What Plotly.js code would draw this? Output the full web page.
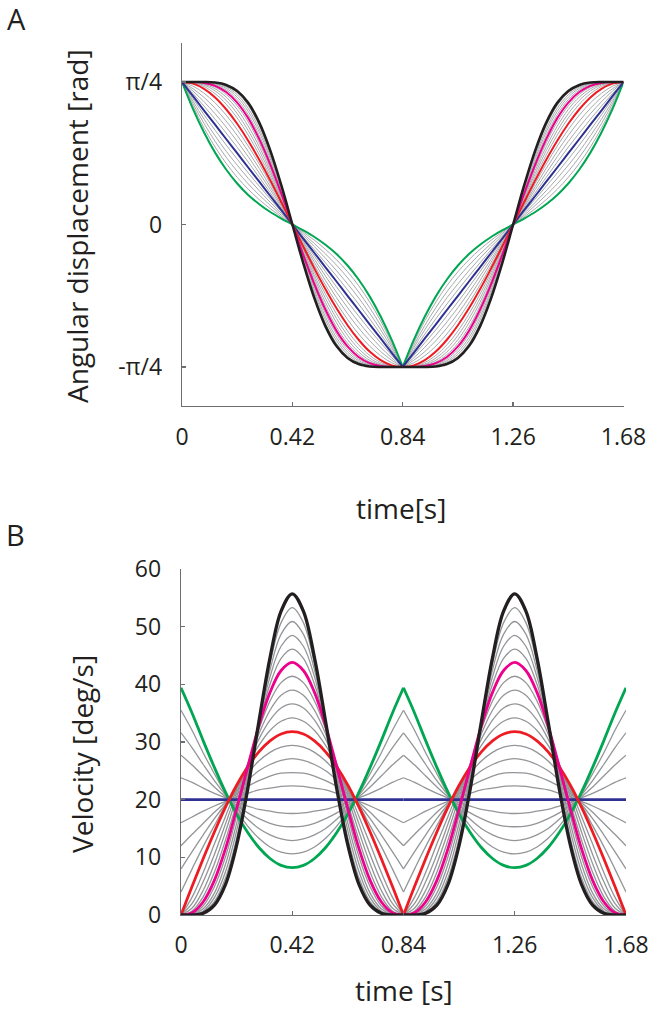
<!DOCTYPE html>
<html><head><meta charset="utf-8">
<script src="https://cdn.plot.ly/plotly-3.0.1.min.js"></script>
<style>html,body{margin:0;padding:0;background:#fff}#chart{width:656px;height:1013px}</style>
</head>
<body>
<div id="chart"></div>
<script>
// time samples [s]
const time = [0,0.042,0.084,0.126,0.168,0.21,0.252,0.294,0.336,0.378,0.42,0.462,0.504,0.546,0.588,0.63,0.672,0.714,0.756,0.798,0.84,0.882,0.924,0.966,1.008,1.05,1.092,1.134,1.176,1.218,1.26,1.302,1.344,1.386,1.428,1.47,1.512,1.554,1.596,1.638,1.68];

// Panel A: angular displacement [rad], curve 00 (green) ... 05 (blue) ... 10 (red) ... 15 (magenta) ... 20 (black)
const pos00 = [0.785,0.636,0.507,0.396,0.303,0.226,0.163,0.112,0.069,0.033,0, -0.033,-0.069,-0.112,-0.163,-0.226,-0.303,-0.396,-0.507,-0.636,-0.785, -0.636,-0.507,-0.396,-0.303,-0.226,-0.163,-0.112,-0.069,-0.033,0, 0.033,0.069,0.112,0.163,0.226,0.303,0.396,0.507,0.636,0.785];
const pos01 = [0.785,0.651,0.531,0.427,0.337,0.260,0.194,0.137,0.087,0.042,0, -0.042,-0.087,-0.137,-0.194,-0.260,-0.337,-0.427,-0.531,-0.651,-0.785, -0.651,-0.531,-0.427,-0.337,-0.260,-0.194,-0.137,-0.087,-0.042,0, 0.042,0.087,0.137,0.194,0.260,0.337,0.427,0.531,0.651,0.785];
const pos02 = [0.785,0.665,0.556,0.458,0.371,0.293,0.224,0.162,0.105,0.051,0, -0.051,-0.105,-0.162,-0.224,-0.293,-0.371,-0.458,-0.556,-0.665,-0.785, -0.665,-0.556,-0.458,-0.371,-0.293,-0.224,-0.162,-0.105,-0.051,0, 0.051,0.105,0.162,0.224,0.293,0.371,0.458,0.556,0.665,0.785];
const pos03 = [0.785,0.679,0.580,0.489,0.404,0.327,0.254,0.186,0.122,0.061,0, -0.061,-0.122,-0.186,-0.254,-0.327,-0.404,-0.489,-0.580,-0.679,-0.785, -0.679,-0.580,-0.489,-0.404,-0.327,-0.254,-0.186,-0.122,-0.061,0, 0.061,0.122,0.186,0.254,0.327,0.404,0.489,0.580,0.679,0.785];
const pos04 = [0.785,0.693,0.604,0.519,0.438,0.360,0.284,0.211,0.140,0.070,0, -0.070,-0.140,-0.211,-0.284,-0.360,-0.438,-0.519,-0.604,-0.693,-0.785, -0.693,-0.604,-0.519,-0.438,-0.360,-0.284,-0.211,-0.140,-0.070,0, 0.070,0.140,0.211,0.284,0.360,0.438,0.519,0.604,0.693,0.785];
const pos05 = [0.785,0.707,0.628,0.550,0.471,0.393,0.314,0.236,0.157,0.079,0, -0.079,-0.157,-0.236,-0.314,-0.393,-0.471,-0.550,-0.628,-0.707,-0.785, -0.707,-0.628,-0.550,-0.471,-0.393,-0.314,-0.236,-0.157,-0.079,0, 0.079,0.157,0.236,0.314,0.393,0.471,0.550,0.628,0.707,0.785];
const pos06 = [0.785,0.721,0.652,0.580,0.504,0.426,0.344,0.260,0.174,0.087,0, -0.087,-0.174,-0.260,-0.344,-0.426,-0.504,-0.580,-0.652,-0.721,-0.785, -0.721,-0.652,-0.580,-0.504,-0.426,-0.344,-0.260,-0.174,-0.087,0, 0.087,0.174,0.260,0.344,0.426,0.504,0.580,0.652,0.721,0.785];
const pos07 = [0.785,0.735,0.676,0.610,0.537,0.458,0.374,0.284,0.192,0.096,0, -0.096,-0.192,-0.284,-0.374,-0.458,-0.537,-0.610,-0.676,-0.735,-0.785, -0.735,-0.676,-0.610,-0.537,-0.458,-0.374,-0.284,-0.192,-0.096,0, 0.096,0.192,0.284,0.374,0.458,0.537,0.610,0.676,0.735,0.785];
const pos08 = [0.785,0.748,0.700,0.640,0.570,0.491,0.403,0.309,0.209,0.105,0, -0.105,-0.209,-0.309,-0.403,-0.491,-0.570,-0.640,-0.700,-0.748,-0.785, -0.748,-0.700,-0.640,-0.570,-0.491,-0.403,-0.309,-0.209,-0.105,0, 0.105,0.209,0.309,0.403,0.491,0.570,0.640,0.700,0.748,0.785];
const pos09 = [0.785,0.762,0.723,0.670,0.603,0.523,0.432,0.333,0.226,0.114,0, -0.114,-0.226,-0.333,-0.432,-0.523,-0.603,-0.670,-0.723,-0.762,-0.785, -0.762,-0.723,-0.670,-0.603,-0.523,-0.432,-0.333,-0.226,-0.114,0, 0.114,0.226,0.333,0.432,0.523,0.603,0.670,0.723,0.762,0.785];
const pos10 = [0.785,0.776,0.747,0.700,0.635,0.555,0.462,0.357,0.243,0.123,0, -0.123,-0.243,-0.357,-0.462,-0.555,-0.635,-0.700,-0.747,-0.776,-0.785, -0.776,-0.747,-0.700,-0.635,-0.555,-0.462,-0.357,-0.243,-0.123,0, 0.123,0.243,0.357,0.462,0.555,0.635,0.700,0.747,0.776,0.785];
const pos11 = [0.785,0.780,0.760,0.721,0.663,0.587,0.493,0.384,0.263,0.134,0, -0.134,-0.263,-0.384,-0.493,-0.587,-0.663,-0.721,-0.760,-0.780,-0.785, -0.780,-0.760,-0.721,-0.663,-0.587,-0.493,-0.384,-0.263,-0.134,0, 0.134,0.263,0.384,0.493,0.587,0.663,0.721,0.760,0.780,0.785];
const pos12 = [0.785,0.782,0.768,0.736,0.684,0.611,0.518,0.407,0.280,0.143,0, -0.143,-0.280,-0.407,-0.518,-0.611,-0.684,-0.736,-0.768,-0.782,-0.785, -0.782,-0.768,-0.736,-0.684,-0.611,-0.518,-0.407,-0.280,-0.143,0, 0.143,0.280,0.407,0.518,0.611,0.684,0.736,0.768,0.782,0.785];
const pos13 = [0.785,0.784,0.773,0.748,0.702,0.634,0.542,0.429,0.297,0.152,0, -0.152,-0.297,-0.429,-0.542,-0.634,-0.702,-0.748,-0.773,-0.784,-0.785, -0.784,-0.773,-0.748,-0.702,-0.634,-0.542,-0.429,-0.297,-0.152,0, 0.152,0.297,0.429,0.542,0.634,0.702,0.748,0.773,0.784,0.785];
const pos14 = [0.785,0.784,0.777,0.757,0.717,0.654,0.565,0.450,0.313,0.161,0, -0.161,-0.313,-0.450,-0.565,-0.654,-0.717,-0.757,-0.777,-0.784,-0.785, -0.784,-0.777,-0.757,-0.717,-0.654,-0.565,-0.450,-0.313,-0.161,0, 0.161,0.313,0.450,0.565,0.654,0.717,0.757,0.777,0.784,0.785];
const pos15 = [0.785,0.785,0.780,0.764,0.730,0.672,0.586,0.470,0.330,0.170,0, -0.170,-0.330,-0.470,-0.586,-0.672,-0.730,-0.764,-0.780,-0.785,-0.785, -0.785,-0.780,-0.764,-0.730,-0.672,-0.586,-0.470,-0.330,-0.170,0, 0.170,0.330,0.470,0.586,0.672,0.730,0.764,0.780,0.785,0.785];
const pos16 = [0.785,0.785,0.782,0.770,0.741,0.688,0.605,0.490,0.346,0.179,0, -0.179,-0.346,-0.490,-0.605,-0.688,-0.741,-0.770,-0.782,-0.785,-0.785, -0.785,-0.782,-0.770,-0.741,-0.688,-0.605,-0.490,-0.346,-0.179,0, 0.179,0.346,0.490,0.605,0.688,0.741,0.770,0.782,0.785,0.785];
const pos17 = [0.785,0.785,0.783,0.774,0.750,0.702,0.623,0.509,0.362,0.188,0, -0.188,-0.362,-0.509,-0.623,-0.702,-0.750,-0.774,-0.783,-0.785,-0.785, -0.785,-0.783,-0.774,-0.750,-0.702,-0.623,-0.509,-0.362,-0.188,0, 0.188,0.362,0.509,0.623,0.702,0.750,0.774,0.783,0.785,0.785];
const pos18 = [0.785,0.785,0.784,0.777,0.758,0.715,0.640,0.527,0.377,0.197,0, -0.197,-0.377,-0.527,-0.640,-0.715,-0.758,-0.777,-0.784,-0.785,-0.785, -0.785,-0.784,-0.777,-0.758,-0.715,-0.640,-0.527,-0.377,-0.197,0, 0.197,0.377,0.527,0.640,0.715,0.758,0.777,0.784,0.785,0.785];
const pos19 = [0.785,0.785,0.785,0.780,0.764,0.726,0.656,0.545,0.392,0.206,0, -0.206,-0.392,-0.545,-0.656,-0.726,-0.764,-0.780,-0.785,-0.785,-0.785, -0.785,-0.785,-0.780,-0.764,-0.726,-0.656,-0.545,-0.392,-0.206,0, 0.206,0.392,0.545,0.656,0.726,0.764,0.780,0.785,0.785,0.785];
const pos20 = [0.785,0.785,0.785,0.782,0.769,0.735,0.670,0.561,0.407,0.215,0, -0.215,-0.407,-0.561,-0.670,-0.735,-0.769,-0.782,-0.785,-0.785,-0.785, -0.785,-0.785,-0.782,-0.769,-0.735,-0.670,-0.561,-0.407,-0.215,0, 0.215,0.407,0.561,0.670,0.735,0.769,0.782,0.785,0.785,0.785];

// Panel B: velocity [deg/s]
const vel00 = [39.4,35.0,30.2,25.6,21.3,17.5,14.3,11.7,9.8,8.6,8.2, 8.6,9.8,11.7,14.3,17.5,21.3,25.6,30.2,35.0,39.4, 35.0,30.2,25.6,21.3,17.5,14.3,11.7,9.8,8.6,8.2, 8.6,9.8,11.7,14.3,17.5,21.3,25.6,30.2,35.0,39.4];
const vel01 = [35.5,32.0,28.1,24.5,21.0,18.0,15.4,13.3,11.8,10.9,10.6, 10.9,11.8,13.3,15.4,18.0,21.0,24.5,28.1,32.0,35.5, 32.0,28.1,24.5,21.0,18.0,15.4,13.3,11.8,10.9,10.6, 10.9,11.8,13.3,15.4,18.0,21.0,24.5,28.1,32.0,35.5];
const vel02 = [31.6,29.0,26.1,23.3,20.8,18.5,16.6,15.0,13.9,13.2,12.9, 13.2,13.9,15.0,16.6,18.5,20.8,23.3,26.1,29.0,31.6, 29.0,26.1,23.3,20.8,18.5,16.6,15.0,13.9,13.2,12.9, 13.2,13.9,15.0,16.6,18.5,20.8,23.3,26.1,29.0,31.6];
const vel03 = [27.7,26.0,24.1,22.2,20.5,19.0,17.7,16.7,15.9,15.4,15.3, 15.4,15.9,16.7,17.7,19.0,20.5,22.2,24.1,26.0,27.7, 26.0,24.1,22.2,20.5,19.0,17.7,16.7,15.9,15.4,15.3, 15.4,15.9,16.7,17.7,19.0,20.5,22.2,24.1,26.0,27.7];
const vel04 = [23.8,23.0,22.0,21.1,20.3,19.5,18.9,18.3,18.0,17.7,17.6, 17.7,18.0,18.3,18.9,19.5,20.3,21.1,22.0,23.0,23.8, 23.0,22.0,21.1,20.3,19.5,18.9,18.3,18.0,17.7,17.6, 17.7,18.0,18.3,18.9,19.5,20.3,21.1,22.0,23.0,23.8];
const vel05 = [20,20,20,20,20,20,20,20,20,20,20, 20,20,20,20,20,20,20,20,20,20, 20,20,20,20,20,20,20,20,20,20, 20,20,20,20,20,20,20,20,20,20];
const vel06 = [16.0,17.0,18.0,18.9,19.7,20.5,21.1,21.7,22.0,22.3,22.4, 22.3,22.0,21.7,21.1,20.5,19.7,18.9,18.0,17.0,16.0, 17.0,18.0,18.9,19.7,20.5,21.1,21.7,22.0,22.3,22.4, 22.3,22.0,21.7,21.1,20.5,19.7,18.9,18.0,17.0,16.0];
const vel07 = [12.0,14.0,15.9,17.8,19.5,21.0,22.3,23.3,24.1,24.6,24.7, 24.6,24.1,23.3,22.3,21.0,19.5,17.8,15.9,14.0,12.0, 14.0,15.9,17.8,19.5,21.0,22.3,23.3,24.1,24.6,24.7, 24.6,24.1,23.3,22.3,21.0,19.5,17.8,15.9,14.0,12.0];
const vel08 = [8.0,11.0,13.9,16.7,19.2,21.5,23.4,25.0,26.1,26.8,27.1, 26.8,26.1,25.0,23.4,21.5,19.2,16.7,13.9,11.0,8.0, 11.0,13.9,16.7,19.2,21.5,23.4,25.0,26.1,26.8,27.1, 26.8,26.1,25.0,23.4,21.5,19.2,16.7,13.9,11.0,8.0];
const vel09 = [4.0,8.0,11.9,15.5,19.0,22.0,24.6,26.7,28.2,29.1,29.4, 29.1,28.2,26.7,24.6,22.0,19.0,15.5,11.9,8.0,4.0, 8.0,11.9,15.5,19.0,22.0,24.6,26.7,28.2,29.1,29.4, 29.1,28.2,26.7,24.6,22.0,19.0,15.5,11.9,8.0,4.0];
const vel10 = [0.0,5.0,9.8,14.4,18.7,22.5,25.7,28.3,30.2,31.4,31.8, 31.4,30.2,28.3,25.7,22.5,18.7,14.4,9.8,5.0,0.0, 5.0,9.8,14.4,18.7,22.5,25.7,28.3,30.2,31.4,31.8, 31.4,30.2,28.3,25.7,22.5,18.7,14.4,9.8,5.0,0.0];
const vel11 = [0.0,3.1,7.4,12.3,17.1,21.8,26.0,29.4,32.0,33.6,34.2, 33.6,32.0,29.4,26.0,21.8,17.1,12.3,7.4,3.1,0.0, 3.1,7.4,12.3,17.1,21.8,26.0,29.4,32.0,33.6,34.2, 33.6,32.0,29.4,26.0,21.8,17.1,12.3,7.4,3.1,0.0];
const vel12 = [0.0,2.0,5.8,10.5,15.8,21.2,26.2,30.5,33.8,35.9,36.6, 35.9,33.8,30.5,26.2,21.2,15.8,10.5,5.8,2.0,0.0, 2.0,5.8,10.5,15.8,21.2,26.2,30.5,33.8,35.9,36.6, 35.9,33.8,30.5,26.2,21.2,15.8,10.5,5.8,2.0,0.0];
const vel13 = [0.0,1.2,4.3,8.9,14.4,20.4,26.2,31.4,35.5,38.1,39.0, 38.1,35.5,31.4,26.2,20.4,14.4,8.9,4.3,1.2,0.0, 1.2,4.3,8.9,14.4,20.4,26.2,31.4,35.5,38.1,39.0, 38.1,35.5,31.4,26.2,20.4,14.4,8.9,4.3,1.2,0.0];
const vel14 = [0.0,0.7,3.2,7.4,13.0,19.4,26.1,32.2,37.1,40.3,41.4, 40.3,37.1,32.2,26.1,19.4,13.0,7.4,3.2,0.7,0.0, 0.7,3.2,7.4,13.0,19.4,26.1,32.2,37.1,40.3,41.4, 40.3,37.1,32.2,26.1,19.4,13.0,7.4,3.2,0.7,0.0];
const vel15 = [0.0,0.4,2.3,6.0,11.5,18.4,25.7,32.8,38.6,42.4,43.8, 42.4,38.6,32.8,25.7,18.4,11.5,6.0,2.3,0.4,0.0, 0.4,2.3,6.0,11.5,18.4,25.7,32.8,38.6,42.4,43.8, 42.4,38.6,32.8,25.7,18.4,11.5,6.0,2.3,0.4,0.0];
const vel16 = [0.0,0.2,1.6,4.9,10.1,17.2,25.2,33.2,40.0,44.5,46.1, 44.5,40.0,33.2,25.2,17.2,10.1,4.9,1.6,0.2,0.0, 0.2,1.6,4.9,10.1,17.2,25.2,33.2,40.0,44.5,46.1, 44.5,40.0,33.2,25.2,17.2,10.1,4.9,1.6,0.2,0.0];
const vel17 = [0.0,0.1,1.1,3.8,8.8,15.9,24.5,33.5,41.3,46.6,48.5, 46.6,41.3,33.5,24.5,15.9,8.8,3.8,1.1,0.1,0.0, 0.1,1.1,3.8,8.8,15.9,24.5,33.5,41.3,46.6,48.5, 46.6,41.3,33.5,24.5,15.9,8.8,3.8,1.1,0.1,0.0];
const vel18 = [0.0,0.1,0.7,3.0,7.5,14.6,23.8,33.6,42.5,48.7,50.9, 48.7,42.5,33.6,23.8,14.6,7.5,3.0,0.7,0.1,0.0, 0.1,0.7,3.0,7.5,14.6,23.8,33.6,42.5,48.7,50.9, 48.7,42.5,33.6,23.8,14.6,7.5,3.0,0.7,0.1,0.0];
const vel19 = [0.0,0.0,0.5,2.3,6.4,13.3,22.9,33.6,43.6,50.7,53.3, 50.7,43.6,33.6,22.9,13.3,6.4,2.3,0.5,0.0,0.0, 0.0,0.5,2.3,6.4,13.3,22.9,33.6,43.6,50.7,53.3, 50.7,43.6,33.6,22.9,13.3,6.4,2.3,0.5,0.0,0.0];
const vel20 = [0.0,0.0,0.3,1.7,5.3,12.1,21.9,33.5,44.6,52.7,55.7, 52.7,44.6,33.5,21.9,12.1,5.3,1.7,0.3,0.0,0.0, 0.0,0.3,1.7,5.3,12.1,21.9,33.5,44.6,52.7,55.7, 52.7,44.6,33.5,21.9,12.1,5.3,1.7,0.3,0.0,0.0];

// tick labels
const xTickVals = [0,0.42,0.84,1.26,1.68];
const xTickText = ['0','0.42','0.84','1.26','1.68'];
const yATickVals = [0.7854,0,-0.7854];
const yATickText = ['π/4','0','-π/4'];
const yBTickVals = [0,10,20,30,40,50,60];
const yBTickText = ['0','10','20','30','40','50','60'];

const posCurves = [pos00,pos01,pos02,pos03,pos04,pos05,pos06,pos07,pos08,pos09,pos10,pos11,pos12,pos13,pos14,pos15,pos16,pos17,pos18,pos19,pos20];
const velCurves = [vel00,vel01,vel02,vel03,vel04,vel05,vel06,vel07,vel08,vel09,vel10,vel11,vel12,vel13,vel14,vel15,vel16,vel17,vel18,vel19,vel20];

// styling
const special = {0:'#00a651',5:'#2e3192',10:'#ed1c24',15:'#ec008c',20:'#231f20'};
const drawOrder = [];
for (let k=0;k<posCurves.length;k++) if(!(k in special)) drawOrder.push(k);
drawOrder.push(0,5,10,15,20);

const traces = [];
const half = 20; // index of t = 0.84 (corner)
function addTraces(ys, k, xa, ya, panel){
  const col = special[k] || (panel==='A' ? '#a7a9ac' : '#939598');
  let w;
  if (k===20) w = panel==='A' ? 2.6 : 3.3;
  else if (k in special) w = panel==='A' ? 2.0 : 2.8;
  else w = panel==='A' ? 1.0 : 1.3;
  [[0,half+1],[half,time.length]].forEach(([a,b])=>{
    traces.push({x:time.slice(a,b), y:ys.slice(a,b), xaxis:xa, yaxis:ya, type:'scatter', mode:'lines',
      line:{color:col,width:w,shape:'spline',smoothing:1}, hoverinfo:'skip', showlegend:false});
  });
}
drawOrder.forEach(k=>addTraces(posCurves[k],k,'x','y','A'));
drawOrder.forEach(k=>addTraces(velCurves[k],k,'x2','y2','B'));

const W=656,H=1013;
const font='"Open Sans", "DejaVu Sans", sans-serif';
const axisCommon = {showline:true, linecolor:'#6d6e71', linewidth:1.3, ticks:'inside', ticklen:4, tickwidth:1.3,
  tickcolor:'#6d6e71', showgrid:false, zeroline:false, fixedrange:true,
  tickfont:{family:font,size:23,color:'#231f20'}};
const px = v=>v/W, py = v=>1-v/H;

const layout = {
  width:W, height:H, margin:{l:0,r:0,t:0,b:0}, paper_bgcolor:'#fff', plot_bgcolor:'#fff', showlegend:false,
  xaxis: Object.assign({}, axisCommon, {domain:[px(182),px(623.5)], range:[0,1.68], anchor:'y',
    tickmode:'array', tickvals:xTickVals, ticktext:xTickText, ticklabelstandoff:10}),
  yaxis: Object.assign({}, axisCommon, {domain:[py(406),py(43)], range:[-1,1], anchor:'x',
    tickmode:'array', tickvals:yATickVals, ticktext:yATickText, ticklabelstandoff:14}),
  xaxis2: Object.assign({}, axisCommon, {domain:[px(181),px(626)], range:[0,1.68], anchor:'y2',
    tickmode:'array', tickvals:xTickVals, ticktext:xTickText, ticklabelstandoff:9}),
  yaxis2: Object.assign({}, axisCommon, {domain:[py(915),py(569)], range:[0,60], anchor:'x2',
    tickmode:'array', tickvals:yBTickVals, ticktext:yBTickText, ticklabelstandoff:14}),
  annotations:[
    {text:'A', xref:'paper', yref:'paper', x:px(16), y:py(18), showarrow:false, xanchor:'center', yanchor:'middle', font:{family:font,size:29,color:'#231f20'}},
    {text:'B', xref:'paper', yref:'paper', x:px(15), y:py(534), showarrow:false, xanchor:'center', yanchor:'middle', font:{family:font,size:29,color:'#231f20'}},
    {text:'Angular displacement [rad]', xref:'paper', yref:'paper', x:px(77), y:py(226), textangle:-90, showarrow:false, xanchor:'center', yanchor:'middle', font:{family:font,size:28,color:'#231f20'}},
    {text:'time[s]', xref:'paper', yref:'paper', x:px(401), y:py(508), showarrow:false, xanchor:'center', yanchor:'middle', font:{family:font,size:28,color:'#231f20'}},
    {text:'Velocity [deg/s]', xref:'paper', yref:'paper', x:px(82), y:py(754), textangle:-90, showarrow:false, xanchor:'center', yanchor:'middle', font:{family:font,size:28,color:'#231f20'}},
    {text:'time [s]', xref:'paper', yref:'paper', x:px(404), y:py(990), showarrow:false, xanchor:'center', yanchor:'middle', font:{family:font,size:28,color:'#231f20'}}
  ]
};
Plotly.newPlot('chart', traces, layout, {displayModeBar:false, staticPlot:true});
</script>
</body></html>
